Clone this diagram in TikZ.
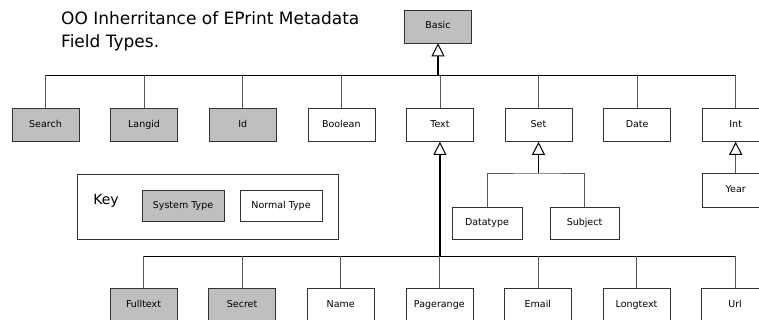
\documentclass[tikz,border=0pt]{standalone}
\usepackage{fontspec}
\setmainfont{DejaVu Sans}
\usepackage{tikz}
\usetikzlibrary{positioning, arrows.meta}

\begin{document}
\begin{tikzpicture}[
    x=1pt, y=-1pt,
    node distance=31pt,
    ftype/.style={draw=black!80, semithick, minimum width=67pt, minimum height=33pt,
                  inner sep=2pt, text height=7pt, text depth=2pt,
                  font=\fontsize{9.5}{11}\selectfont, fill=white},
    systype/.style={ftype, fill=black!25},
    link/.style={draw=black!65, semithick},
    bus/.style={draw=black, thick},
    trunk/.style={draw=black, line width=2pt},
    inherit/.style={-{Triangle[open, length=13pt 0 0, width=13pt 0 0, line width=1pt, black]}}
]
\useasboundingbox (0,0) rectangle (759,320);

%---------------- Title ----------------
\node[anchor=north west, inner sep=0pt, align=left,
      font=\fontsize{17}{23}\selectfont] (title) at (61,11.5)
      {OO Inherritance of EPrint Metadata\\Field Types.};

%---------------- Root ----------------
\node[systype] (Basic) at (438,26.5) {Basic};

%---------------- First level ----------------
\node[systype] (Search) at (45.5,125) {Search};
\node[systype, right=of Search] (Langid) {Langid};
\node[systype, right=of Langid] (Id) {Id};
\node[ftype, right=of Id] (Boolean) {Boolean};
\node[ftype, right=of Boolean] (Text) {Text};
\node[ftype, right=of Text] (Set) {Set};
\node[ftype, right=of Set] (Date) {Date};
\node[ftype, right=of Date] (Int) {Int};

\coordinate (topbus) at (Basic |- 0,75);
\draw[bus] (Search |- topbus) -- (Int |- topbus);
\foreach \n in {Search, Langid, Id, Boolean, Text, Set, Date, Int}
    \draw[link] (\n.north) -- (\n |- topbus);
\draw[trunk, inherit] (topbus) -- (Basic.south);

%---------------- Set children ----------------
\node[ftype, minimum width=70pt, minimum height=32pt] (Datatype) at (487,223) {Datatype};
\node[ftype, minimum width=69pt, minimum height=32pt] (Subject) at (584.5,223) {Subject};

\coordinate (setbus) at (Set |- 0,173);
\draw[link] (Datatype.north) |- (setbus) -| (Subject.north);
\draw[draw=black, line width=1.5pt, inherit] (setbus) -- (Set.south);

%---------------- Int children ----------------
\node[ftype, minimum height=34pt, below=31pt of Int] (Year) {Year};
\draw[link, inherit] (Year.north) -- (Int.south);

%---------------- Key ----------------
\node[draw=black!80, semithick, minimum width=261pt, minimum height=65pt] (key) at (207.5,206.5) {};
\node[font=\fontsize{14}{16}\selectfont] (keylabel) at (106,201) {Key};
\node[systype, minimum width=82pt, minimum height=31pt] (keysys) at (183,205.5) {System Type};
\node[ftype, minimum width=82pt, minimum height=31pt] (keynorm) at (281,205.5) {Normal Type};

%---------------- Text children ----------------
\node[systype] (Fulltext) at (143.5,304.5) {Fulltext};
\node[systype, right=of Fulltext] (Secret) {Secret};
\node[ftype, right=of Secret] (Name) {Name};
\node[ftype, right=of Name] (Pagerange) {Pagerange};
\node[ftype, right=of Pagerange] (Email) {Email};
\node[ftype, right=of Email] (Longtext) {Longtext};
\node[ftype, right=of Longtext] (Url) {Url};

\coordinate (textbus) at (Text |- 0,256);
\draw[bus] (Fulltext |- textbus) -- (Url |- textbus);
\foreach \n in {Fulltext, Secret, Name, Pagerange, Email, Longtext, Url}
    \draw[link] (\n.north) -- (\n |- textbus);
\draw[trunk, inherit] (textbus) -- (Text.south);

\end{tikzpicture}
\end{document}
